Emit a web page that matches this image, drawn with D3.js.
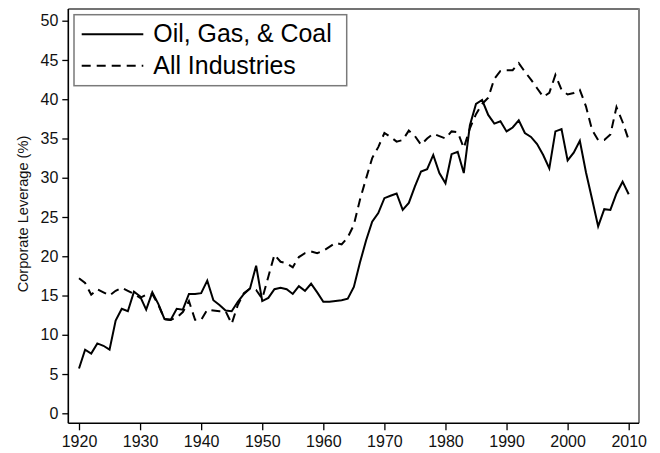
<!DOCTYPE html>
<html>
<head>
<meta charset="utf-8">
<script src="https://cdn.jsdelivr.net/npm/d3@7"></script>
<style>
  body { margin: 0; background: #fff; }
  svg { display: block; font-family: "Liberation Sans", Arial, Helvetica, sans-serif; }
  .tick text { font-size: 16px; fill: #111; }
</style>
</head>
<body>
<svg id="chart" width="660" height="453"></svg>
<script>
const years = d3.range(1920, 2011);

const oilGasCoal = [
  5.7, 8.1, 7.6, 8.9, 8.6, 8.1, 11.8, 13.3, 13.0, 15.5,
  14.9, 13.2, 15.4, 13.9, 12.0, 11.9, 13.3, 13.2, 15.2, 15.2,
  15.3, 16.9, 14.4, 13.8, 13.1, 13.0, 14.2, 15.2, 15.9, 18.8,
  14.3, 14.7, 15.8, 16.0, 15.8, 15.2, 16.2, 15.6, 16.5, 15.4,
  14.2, 14.2, 14.3, 14.4, 14.6, 16.1, 19.2, 22.0, 24.4, 25.5,
  27.4, 27.7, 28.0, 25.9, 26.8, 28.9, 30.8, 31.1, 32.9, 30.6,
  29.3, 33.0, 33.3, 30.6, 36.7, 39.4, 39.9, 38.0, 36.9, 37.2,
  35.9, 36.4, 37.3, 35.7, 35.2, 34.3, 32.9, 31.2, 35.9, 36.2,
  32.2, 33.2, 34.7, 30.7, 27.3, 23.8, 26.0, 25.9, 28.0, 29.5,
  27.9,
];

const allIndustries = [
  17.2, 16.6, 15.1, 15.8, 15.4, 15.0, 15.6, 16.0, 15.6, 15.2,
  14.7, 15.1, 15.2, 13.8, 12.0, 11.9, 12.2, 12.9, 14.3, 11.9,
  11.9, 13.2, 13.1, 13.0, 13.0, 11.4, 13.8, 15.3, 15.9, 15.7,
  14.6, 17.4, 20.2, 19.3, 19.1, 18.6, 19.9, 20.4, 20.6, 20.4,
  20.7, 21.2, 21.7, 21.5, 22.4, 24.0, 27.2, 29.9, 32.5, 33.9,
  35.7, 35.2, 34.6, 34.8, 36.0, 35.3, 34.2, 35.0, 35.6, 35.3,
  35.0, 35.9, 35.8, 33.8, 36.3, 38.1, 39.4, 40.2, 42.6, 43.6,
  43.7, 43.7, 44.6, 43.5, 42.5, 41.4, 40.3, 40.8, 43.1, 41.2,
  40.6, 40.8, 41.2, 39.1, 36.1, 34.8, 34.8, 35.5, 39.0, 37.1,
  34.8,
];

const xTicks = [1920, 1930, 1940, 1950, 1960, 1970, 1980, 1990, 2000, 2010];
const yTicks = [0, 5, 10, 15, 20, 25, 30, 35, 40, 45, 50];
const seriesNames = ["Oil, Gas, & Coal", "All Industries"];
const yLabel = "Corporate Leverage (%)";

const svg = d3.select("#chart");
const frame = { left: 68.3, right: 639, top: 9, bottom: 423.3 };

const xScale = d3.scaleLinear().domain([1920, 2010]).range([79, 628.7]);
const yScale = d3.scaleLinear().domain([0, 50]).range([413.3, 20.7]);

// plot region border (top and right, Stata style)
svg.append("line")
  .attr("x1", frame.left).attr("x2", frame.right)
  .attr("y1", frame.top).attr("y2", frame.top)
  .attr("stroke", "#444").attr("stroke-width", 1.5);
svg.append("line")
  .attr("x1", frame.right).attr("x2", frame.right)
  .attr("y1", frame.top - 0.7).attr("y2", frame.bottom)
  .attr("stroke", "#808080").attr("stroke-width", 2);

const xAxis = d3.axisBottom(xScale)
  .tickValues(xTicks).tickFormat(d3.format("d"))
  .tickSize(7).tickSizeOuter(0).tickPadding(5);
const yAxis = d3.axisLeft(yScale)
  .tickValues(yTicks).tickSize(6).tickSizeOuter(0).tickPadding(4);

const xAxisG = svg.append("g")
  .attr("transform", `translate(0,${frame.bottom})`)
  .call(xAxis);
xAxisG.select(".domain").remove();
xAxisG.append("line")
  .attr("x1", frame.left).attr("x2", frame.right)
  .attr("stroke", "#000").attr("stroke-width", 1.6);
xAxisG.selectAll(".tick line").attr("stroke-width", 1.3);

const yAxisG = svg.append("g")
  .attr("transform", `translate(${frame.left},0)`)
  .call(yAxis);
yAxisG.select(".domain").remove();
yAxisG.append("line")
  .attr("y1", frame.top).attr("y2", frame.bottom)
  .attr("stroke", "#000").attr("stroke-width", 1.6);
yAxisG.selectAll(".tick line").attr("stroke-width", 1.3);

svg.append("text")
  .attr("transform", `translate(27.5,${(yScale(0) + yScale(50)) / 2 - 3}) rotate(-90)`)
  .attr("text-anchor", "middle")
  .attr("font-size", 14.6)
  .attr("fill", "#111")
  .text(yLabel);

const line = d3.line()
  .x((d, i) => xScale(years[i]))
  .y((d) => yScale(d));

svg.append("path")
  .datum(allIndustries)
  .attr("d", line)
  .attr("fill", "none")
  .attr("stroke", "#000")
  .attr("stroke-width", 2)
  .attr("stroke-dasharray", "9,6");

svg.append("path")
  .datum(oilGasCoal)
  .attr("d", line)
  .attr("fill", "none")
  .attr("stroke", "#000")
  .attr("stroke-width", 2);

// legend
const legend = svg.append("g");
legend.append("rect")
  .attr("x", 74).attr("y", 14.7)
  .attr("width", 272.7).attr("height", 71)
  .attr("fill", "#fff")
  .attr("stroke", "#7a7a7a").attr("stroke-width", 1.5);

const legendRows = [
  { name: seriesNames[0], dash: null, y: 34.3 },
  { name: seriesNames[1], dash: "9,6", y: 65.7 },
];
legendRows.forEach((row) => {
  legend.append("line")
    .attr("x1", 81.7).attr("x2", 143.3)
    .attr("y1", row.y).attr("y2", row.y)
    .attr("stroke", "#000").attr("stroke-width", 2)
    .attr("stroke-dasharray", row.dash);
  legend.append("text")
    .attr("x", 153.3).attr("y", row.y + 7.8)
    .attr("font-size", 24.9)
    .attr("fill", "#000")
    .text(row.name);
});
</script>
</body>
</html>
